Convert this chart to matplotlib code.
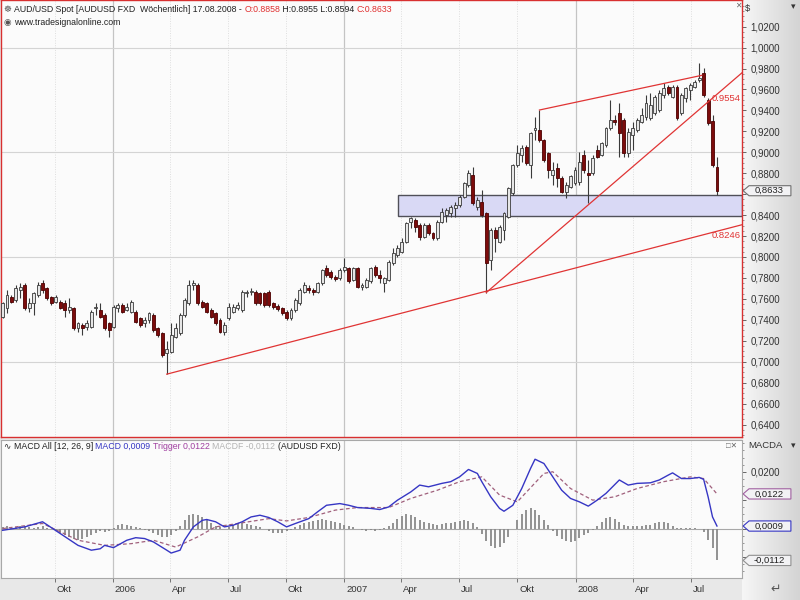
import numpy as np
import pandas as pd
import matplotlib
matplotlib.use("Agg")
import matplotlib.pyplot as plt
import matplotlib.dates as mdates
from matplotlib.patches import Rectangle, Polygon
from matplotlib.colors import LinearSegmentedColormap
from matplotlib.transforms import blended_transform_factory
from matplotlib.text import Annotation

plt.rcParams['font.family'] = ['Liberation Sans', 'DejaVu Sans']

# weekly AUD/USD candles, first week and OHLC
first_week = "2005-07-11"
opens = [.7431, .7511, .7622, .7590, .7686, .7733, .7511, .7558, .7638, .7749,
         .7701, .7622, .7574, .7574, .7558, .7495, .7511, .7320, .7352, .7336,
         .7336, .7511, .7495, .7447, .7368, .7336, .7511, .7542, .7495, .7479,
         .7479, .7415, .7367, .7399, .7447, .7320, .7272, .7080, .7097, .7240,
         .7272, .7447, .7558, .7733, .7733, .7574, .7558, .7494, .7463, .7399,
         .7288, .7415, .7478, .7510, .7494, .7653, .7669, .7669, .7653, .7653,
         .7669, .7558, .7530, .7510, .7478, .7415, .7494, .7558, .7669, .7700,
         .7685, .7669, .7749, .7893, .7861, .7813, .7800, .7877, .7893, .7780,
         .7893, .7718, .7718, .7766, .7909, .7829, .7750, .7782, .7941, .8020,
         .8052, .8147, .8338, .8354, .8306, .8195, .8306, .8227, .8179, .8338,
         .8402, .8418, .8470, .8497, .8577, .8688, .8783, .8481, .8529, .8418,
         .7972, .8259, .8147, .8259, .8386, .8608, .8880, .8975, .9055, .8880,
         .9214, .9214, .9118, .8991, .8784, .8848, .8753, .8625, .8673, .8705,
         .8721, .8975, .8800, .8800, .9023, .8975, .9071, .9230, .9309, .9373,
         .9309, .8991, .9166, .9214, .9293, .9341, .9325, .9373, .9404, .9547,
         .9627, .9531, .9627, .9373, .9516, .9595, .9627, .9690, .9754, .9500,
         .9300, .8858]
highs = [.7574, .7686, .7640, .7733, .7749, .7749, .7606, .7670, .7765, .7781,
         .7710, .7630, .7638, .7590, .7590, .7606, .7527, .7383, .7368, .7399,
         .7495, .7558, .7558, .7463, .7383, .7542, .7558, .7558, .7560, .7590,
         .7495, .7431, .7431, .7479, .7463, .7336, .7288, .7200, .7367, .7367,
         .7463, .7606, .7781, .7781, .7749, .7590, .7574, .7510, .7478, .7415,
         .7383, .7558, .7550, .7574, .7685, .7685, .7700, .7685, .7669, .7669,
         .7685, .7574, .7550, .7526, .7494, .7510, .7606, .7701, .7765, .7733,
         .7701, .7765, .7890, .7925, .7877, .7830, .7893, .7988, .7909, .7909,
         .7909, .7750, .7800, .7909, .7925, .7877, .7813, .7972, .8084, .8116,
         .8179, .8338, .8386, .8370, .8322, .8322, .8322, .8243, .8354, .8465,
         .8465, .8497, .8529, .8590, .8720, .8831, .8863, .8577, .8640, .8434,
         .8275, .8290, .8306, .8434, .8670, .8890, .9071, .9071, .9071, .9198,
         .9341, .9404, .9130, .9007, .8912, .8896, .8769, .8721, .8784, .8864,
         .9007, .9023, .8928, .8975, .9071, .9100, .9246, .9500, .9357, .9468,
         .9325, .9230, .9293, .9325, .9420, .9547, .9563, .9547, .9595, .9659,
         .9640, .9643, .9640, .9563, .9627, .9659, .9690, .9850, .9802, .9516,
         .9357, .8955]
lows = [.7415, .7463, .7560, .7574, .7606, .7495, .7479, .7447, .7622, .7654,
        .7590, .7545, .7558, .7500, .7431, .7463, .7304, .7288, .7256, .7304,
        .7320, .7447, .7415, .7304, .7240, .7320, .7479, .7463, .7480, .7463,
        .7367, .7336, .7336, .7367, .7288, .7240, .7049, .6881, .7081, .7224,
        .7256, .7431, .7542, .7685, .7542, .7510, .7463, .7415, .7351, .7272,
        .7256, .7399, .7463, .7494, .7478, .7620, .7640, .7542, .7540, .7526,
        .7526, .7500, .7480, .7447, .7399, .7399, .7478, .7542, .7653, .7653,
        .7637, .7653, .7733, .7813, .7790, .7766, .7782, .7861, .7750, .7766,
        .7702, .7686, .7702, .7750, .7813, .7750, .7670, .7766, .7925, .8004,
        .8036, .8132, .8275, .8243, .8163, .8180, .8211, .8163, .8163, .8322,
        .8338, .8386, .8386, .8481, .8560, .8672, .8497, .8449, .8386, .7660,
        .7877, .8052, .8132, .8163, .8370, .8590, .8864, .8912, .8880, .8753,
        .9118, .9102, .8912, .8753, .8689, .8673, .8609, .8562, .8657, .8689,
        .8689, .8800, .8514, .8784, .8943, .8960, .9055, .9214, .9261, .8959,
        .8959, .8959, .9023, .9198, .9277, .9309, .9309, .9357, .9388, .9516,
        .9547, .9516, .9309, .9357, .9484, .9500, .9611, .9675, .9531, .9261,
        .8864, .8594]
closes = [.7558, .7638, .7574, .7701, .7717, .7511, .7558, .7654, .7733, .7686,
          .7606, .7558, .7622, .7511, .7495, .7527, .7320, .7368, .7320, .7368,
          .7479, .7527, .7431, .7320, .7304, .7527, .7542, .7479, .7527, .7574,
          .7383, .7351, .7399, .7463, .7304, .7256, .7065, .7120, .7256, .7320,
          .7447, .7590, .7733, .7749, .7558, .7526, .7478, .7431, .7367, .7288,
          .7351, .7526, .7526, .7542, .7669, .7669, .7680, .7558, .7558, .7542,
          .7542, .7520, .7500, .7463, .7415, .7494, .7590, .7685, .7733, .7685,
          .7669, .7749, .7876, .7829, .7813, .7790, .7877, .7909, .7766, .7893,
          .7718, .7734, .7782, .7893, .7829, .7800, .7798, .7957, .8036, .8084,
          .8147, .8322, .8370, .8290, .8195, .8306, .8227, .8179, .8338, .8434,
          .8449, .8481, .8497, .8577, .8704, .8799, .8513, .8545, .8402, .7941,
          .8259, .8179, .8290, .8418, .8656, .8879, .8991, .9039, .8896, .9182,
          .9230, .9118, .8928, .8832, .8832, .8753, .8625, .8689, .8769, .8832,
          .8912, .8832, .8784, .8943, .8959, .9087, .9230, .9309, .9290, .9182,
          .8991, .9198, .9230, .9309, .9357, .9468, .9452, .9531, .9563, .9611,
          .9563, .9627, .9325, .9547, .9611, .9643, .9675, .9706, .9547, .9277,
          .8880, .8633]

# MACD (12, 26, 9): line and trigger read at week numbers, histogram per week
macd_week = [0, 5, 9, 17, 20, 22, 23, 25, 28, 30, 32, 34, 37, 38, 40, 41, 43, 45, 46, 48,
             50, 52, 54, 56, 58, 60, 62, 64, 66, 69, 71, 73, 76, 78, 80, 83, 85, 87, 89, 92,
             94, 96, 99, 101, 103, 105, 107, 108, 110, 112, 113, 115, 117, 119, 120, 122, 124, 126, 128, 130,
             132, 134, 136, 139, 141, 143, 146, 148, 150, 151, 153, 155, 157, 158, 159, 160, 161]
macd_vals = [-0.0006, 0.0006, 0.0024, -0.0059, -0.0076, -0.0071, -0.0059, -0.0067, -0.0041, -0.0032,
             -0.0035, -0.0047, -0.0076, -0.0086, -0.0076, -0.0041, 0.0006, 0.0029, 0.0032, 0.0024,
             0.0006, 0.0012, 0.0024, 0.0041, 0.0047, 0.0039, 0.0024, 0.0006, 0.0018, 0.0035,
             0.0059, 0.0082, 0.0088, 0.0082, 0.0074, 0.0071, 0.0067, 0.0076, 0.0100, 0.0129,
             0.0153, 0.0147, 0.0159, 0.0165, 0.0182, 0.0208, 0.0194, 0.0165, 0.0112, 0.0071,
             0.0061, 0.0082, 0.0141, 0.0212, 0.0244, 0.0229, 0.0182, 0.0135, 0.0106, 0.0094,
             0.0079, 0.0100, 0.0124, 0.0171, 0.0153, 0.0159, 0.0161, 0.0171, 0.0188, 0.0196,
             0.0176, 0.0176, 0.0180, 0.0173, 0.0112, 0.0041, 0.0009]
trig_week = [0, 9, 17, 23, 29, 34, 39, 44, 48, 53, 60, 64, 69, 75, 80, 87, 92, 98, 103, 108,
             112, 116, 122, 124, 128, 133, 138, 143, 149, 155, 158, 161]
trig_vals = [0.0000, 0.0018, -0.0041, -0.0059, -0.0053, -0.0041, -0.0065, -0.0029, 0.0006, 0.0018,
             0.0035, 0.0027, 0.0039, 0.0065, 0.0074, 0.0074, 0.0106, 0.0135, 0.0165, 0.0182,
             0.0118, 0.0094, 0.0194, 0.0200, 0.0141, 0.0100, 0.0112, 0.0141, 0.0165, 0.0182,
             0.0176, 0.0122]
hist_vals = [0.0005, 0.0008, 0.0004, 0.0006, 0.0010, 0.0009, 0.0004, 0.0002, 0.0005, 0.0008, 0.0003, -0.0002,
             -0.0008, -0.0015, -0.0022, -0.0030, -0.0038, -0.0040, -0.0035, -0.0030, -0.0022, -0.0015, -0.0010, -0.0012,
             -0.0008, 0.0002, 0.0012, 0.0016, 0.0014, 0.0010, 0.0006,
             0.0002, -0.0004, -0.0008, -0.0015, -0.0022, -0.0028, -0.0030, -0.0022, -0.0010, 0.0008,
             0.0030, 0.0048, 0.0052, 0.0048, 0.0040, 0.0030, 0.0020, 0.0010, 0.0004, 0.0000,
             0.0006, 0.0012, 0.0016, 0.0018, 0.0016, 0.0012, 0.0008, 0.0004, 0.0000, -0.0008, -0.0014, -0.0016,
             -0.0014, -0.0010, -0.0004, 0.0004,
             0.0012, 0.0018, 0.0022, 0.0026, 0.0030, 0.0032, 0.0030, 0.0028, 0.0024, 0.0018, 0.0014, 0.0008, 0.0004, -0.0002,
             -0.0006, -0.0008, -0.0006, -0.0008, -0.0004, 0.0002, 0.0010, 0.0020,
             0.0034, 0.0046, 0.0052, 0.0048, 0.0040, 0.0030, 0.0024, 0.0018, 0.0016,
             0.0014, 0.0016, 0.0018, 0.0020, 0.0022, 0.0026, 0.0030, 0.0028, 0.0018, 0.0004,
             -0.0020, -0.0045, -0.0062, -0.0068, -0.0064, -0.0050, -0.0028, 0.0000,
             0.0030, 0.0050, 0.0066, 0.0072, 0.0064, 0.0048, 0.0030, 0.0012,
             -0.0010, -0.0026, -0.0038, -0.0044, -0.0046, -0.0042, -0.0034, -0.0024, -0.0016, -0.0006,
             0.0010, 0.0024, 0.0036, 0.0040, 0.0034, 0.0022,
             0.0014, 0.0010, 0.0008, 0.0008, 0.0010, 0.0012, 0.0014, 0.0018, 0.0022, 0.0024, 0.0020,
             0.0008, 0.0002, 0.0001, 0.0002, 0.0001, 0.0002, 0.0000,
             -0.0012, -0.0040, -0.0070, -0.0112]

# drawn objects on the chart
support_pts = [("2006-03-27", 0.6881), ("2008-08-11", 0.8246)]
trend_pts = [("2007-08-13", 0.7660), ("2008-08-11", 0.9554)]
upper_pts = [("2007-11-05", 0.9404), ("2008-07-18", 0.9735)]
zone_start, zone_low, zone_high = "2007-03-27", 0.8392, 0.8592

quarter_labels = ['Okt', '2006', 'Apr', 'Jul', 'Okt', '2007', 'Apr', 'Jul', 'Okt', '2008', 'Apr', 'Jul']


def de(v):
    return f"{v:.4f}".replace('.', ',')


weeks = pd.date_range(first_week, periods=len(closes), freq="7D")
x = mdates.date2num(weeks)
o, h, l, c = map(np.array, (opens, highs, lows, closes))

fig = plt.figure(figsize=(8, 6), dpi=100)
fig.patch.set_facecolor('#e8e8e8')
W, H = 800.0, 600.0


def px_axes(x0, y0, x1, y1):
    return fig.add_axes([x0 / W, 1 - y1 / H, (x1 - x0) / W, (y1 - y0) / H])


bg = px_axes(742, 0, 800, 600)
bg.imshow(np.linspace(0, 1, 64).reshape(1, -1), aspect='auto', extent=[0, 1, 0, 1],
          cmap=LinearSegmentedColormap.from_list('g', ['#f6f6f6', '#d4d4d4']))
bg.axis('off')

ax = px_axes(1, 0, 742, 437)
axm = px_axes(1, 440, 742, 578)

x_left = x[0] - 2.5
x_right = x_left + 1169
years = mdates.date2num(pd.to_datetime(['2006-01-01', '2007-01-01', '2008-01-01']))
quarters = mdates.date2num(pd.date_range('2005-10-01', '2008-07-01', freq='QS'))

for a in (ax, axm):
    a.set_facecolor('#fbfbfb')
    a.set_xlim(x_left, x_right)
    for q in quarters:
        if q in years:
            a.axvline(q, color='#c4c4c4', lw=0.9, zorder=0)
        else:
            a.axvline(q, color='#dedede', lw=0.7, ls=(0, (1, 1.5)), zorder=0)
    a.yaxis.tick_right()

# price panel
ax.set_ylim(0.62808, 1.04546)
for g in (0.7, 0.8, 0.9, 1.0):
    ax.axhline(g, color='#d4d4d4', lw=0.8, zorder=0)

up = c >= o
body = np.maximum(np.abs(c - o), 0.0006)
ax.vlines(x, l, h, color='#3a3a3a', lw=0.8, zorder=2)
ax.bar(x[up], body[up], bottom=o[up], width=4.6, facecolor='#e6e6e6',
       edgecolor='#3a3a3a', lw=0.6, zorder=3)
ax.bar(x[~up], body[~up], bottom=c[~up], width=4.6, facecolor='#7c0c0c',
       edgecolor='#4c0000', lw=0.6, zorder=3)

zx = mdates.date2num(pd.Timestamp(zone_start))
ax.add_patch(Rectangle((zx, zone_low), x_right - zx - 0.5, zone_high - zone_low,
                       facecolor='#d9d9f5', edgecolor='#505058', lw=1.0, zorder=1))


def ray(pts, x_end):
    (d0, p0), (d1, p1) = pts
    t0, t1 = mdates.date2num(pd.Timestamp(d0)), mdates.date2num(pd.Timestamp(d1))
    slope = (p1 - p0) / (t1 - t0)
    return [t0, x_end], [p0, p0 + slope * (x_end - t0)]


for pts in (support_pts, trend_pts):
    xs, ys = ray(pts, x_right)
    ax.plot(xs, ys, color='#e03434', lw=0.9, zorder=4)
ux = [mdates.date2num(pd.Timestamp(d)) for d, _ in upper_pts]
ax.plot(ux, [p for _, p in upper_pts], color='#e03434', lw=0.9, zorder=4)

yt = blended_transform_factory(ax.transAxes, ax.transData)
ax.text(0.9985, trend_pts[1][1] - 0.0036, f"{trend_pts[1][1]:.4f}", transform=yt,
        ha='right', va='center', color='#e03434', fontsize=6.8)
ax.text(0.9985, support_pts[1][1] - 0.0040, f"{support_pts[1][1]:.4f}", transform=yt,
        ha='right', va='center', color='#e03434', fontsize=6.8)

# right price scale (the 0,8600 label sits under the last-price box)
pt = np.round(np.arange(0.64, 1.0201, 0.02), 2)
ax.set_xticks([])
ax.set_yticks(pt)
ax.set_yticklabels(['' if abs(v - 0.86) < 1e-6 else de(v) for v in pt])
ax.set_yticks(np.arange(0.63, 1.045, 0.005), minor=True)
ax.tick_params(axis='y', which='major', length=3, width=0.6, color='#505050',
               labelsize=7, labelcolor='#333333', pad=3)
ax.tick_params(axis='y', which='minor', length=1.5, width=0.5, color='#707070')
for s in ax.spines.values():
    s.set_color('#d83030')
    s.set_linewidth(1.0)

# MACD panel
axm.set_ylim(-0.01738, 0.03116)
axm.axhline(0, color='#a8a8a8', lw=0.8, zorder=1)
axm.vlines(x, 0, hist_vals, color='#8a8a8a', lw=1.3, zorder=2)
axm.plot(mdates.date2num(weeks[trig_week]), trig_vals, color='#a0607c', lw=0.9,
         ls=(0, (3, 2)), zorder=3)
axm.plot(mdates.date2num(weeks[macd_week]), macd_vals, color='#3636c4', lw=1.0, zorder=4)

# only 0,0200 stays readable, the other labels sit under the value boxes
mt = [-0.01, 0.0, 0.01, 0.02]
axm.set_yticks(mt)
axm.set_yticklabels(['', '', '', de(0.02)])
axm.set_yticks(np.arange(-0.015, 0.031, 0.0025), minor=True)
axm.tick_params(axis='y', which='major', length=3, width=0.6, color='#505050',
                labelsize=7, labelcolor='#333333', pad=3)
axm.tick_params(axis='y', which='minor', length=1.5, width=0.5, color='#707070')
axm.set_xticks(quarters)
axm.set_xticklabels([])
axm.tick_params(axis='x', length=3, width=0.6, color='#606060')
for s in axm.spines.values():
    s.set_color('#a8a8a8')
    s.set_linewidth(0.8)

bt = blended_transform_factory(axm.transData, fig.transFigure)
for q, lab in zip(quarters, quarter_labels):
    fig.text(q + 3, 1 - 589 / H, lab, transform=bt, fontsize=6.8, color='#333333',
             ha='left', va='center')


# value boxes on the right scale
def value_box(a, val, label, edge, half):
    tr = blended_transform_factory(a.transAxes, a.transData)
    x0, x1 = 1.0015, 1.066
    pts = [(x0, val), (x0 + 0.008, val + half), (x1, val + half), (x1, val - half), (x0 + 0.008, val - half)]
    a.add_patch(Polygon(pts, closed=True, transform=tr, facecolor='#f2f2f4', edgecolor=edge,
                        lw=0.8, clip_on=False, zorder=10))
    a.text((x0 + x1) / 2 + 0.003, val, label, transform=tr, ha='center', va='center',
           fontsize=6.8, color='#222222', clip_on=False, zorder=11)


value_box(ax, closes[-1], de(closes[-1]), '#707070', 0.0048)
value_box(axm, trig_vals[-1], de(trig_vals[-1]), '#a060a0', 0.0018)
value_box(axm, macd_vals[-1], de(macd_vals[-1]), '#3636c4', 0.0018)
value_box(axm, hist_vals[-1], de(hist_vals[-1]), '#909090', 0.0018)


# header texts, coloured pieces chained one after the other
def chain(parts, x0, y0, size=6.3):
    t = fig.text(x0 / W, 1 - y0 / H, parts[0][0], color=parts[0][1], fontsize=size,
                 va='bottom', zorder=20)
    for s, col in parts[1:]:
        t = fig.add_artist(Annotation(s, xy=(1, 0), xycoords=t, color=col, fontsize=size,
                                      va='bottom', ha='left', zorder=20))
    return t


chain([("\u2638 ", '#555555'),
       ("AUD/USD Spot [AUDUSD FXD  Wöchentlich] 17.08.2008 - ", '#222222'),
       ("O:0.8858", '#e03030'),
       (" H:0.8955 L:0.8594 ", '#222222'),
       ("C:0.8633", '#e03030')], 4, 14)
chain([("\u25c9 ", '#555555'), ("www.tradesignalonline.com", '#222222')], 4, 27)
chain([("\u223f ", '#333333'),
       ("MACD All [12, 26, 9] ", '#222222'),
       ("MACD " + de(macd_vals[-1]) + " ", '#3636c4'),
       ("Trigger " + de(trig_vals[-1]) + " ", '#a040a0'),
       ("MACDF " + de(hist_vals[-1]) + " ", '#b4b4b4'),
       ("(AUDUSD FXD)", '#222222')], 4, 451)

fig.text(745 / W, 1 - 8 / H, "$", fontsize=6.8, color='#333333', va='center')
fig.text(791 / W, 1 - 7 / H, "\u25be", fontsize=6.5, color='#333333', va='center')
fig.text(735 / W, 1 - 6 / H, "\u2715", fontsize=5.5, color='#666666', va='center')
fig.text(748 / W, 1 - 446 / H, "MACDA", fontsize=6.8, color='#333333', va='center')
fig.text(791 / W, 1 - 446 / H, "\u25be", fontsize=6.5, color='#333333', va='center')
fig.text(726 / W, 1 - 446 / H, "\u25a1\u2715", fontsize=5.5, color='#666666', va='center')
fig.text(770 / W, 1 - 590 / H, "\u21b5", fontsize=9, color='#555555', va='center')

fig.savefig("out.png", dpi=100, facecolor=fig.get_facecolor())
